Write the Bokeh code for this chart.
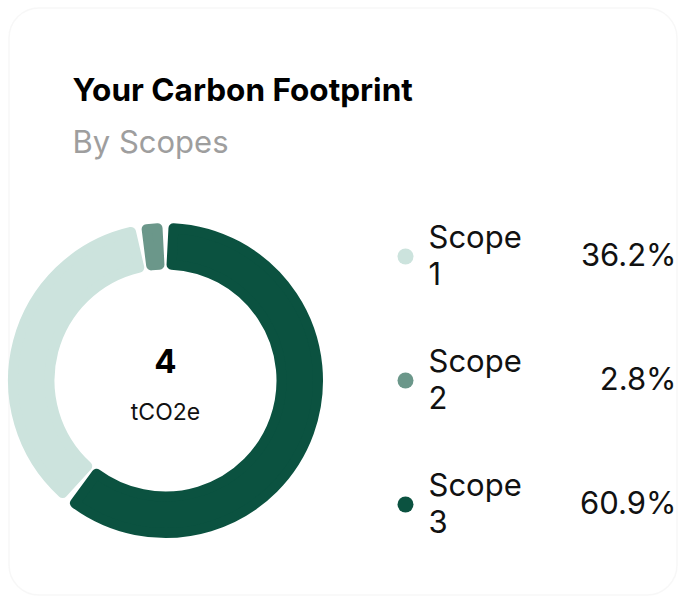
import numpy as np
from bokeh.plotting import figure
from bokeh.models import ColumnDataSource, BoxAnnotation, Range1d
from bokeh.core.properties import value
from bokeh.embed import file_html
from bokeh.resources import INLINE

# ---- data ----
categories = ["Scope 1", "Scope 2", "Scope 3"]
shares = [36.2, 2.8, 60.9]
colors = ["#cce3dd", "#6b978a", "#0b5240"]
clockwise_order = [2, 0, 1]  # from 12 o'clock: Scope 3, Scope 1, Scope 2
total_value = "4"
unit_label = "tCO2e"
title_text = "Your Carbon Footprint"
subtitle_text = "By Scopes"

FONT = "Inter"
W, H = 678, 596

p = figure(width=W, height=H, x_range=Range1d(0, W), y_range=Range1d(0, H),
           output_backend="svg", toolbar_location=None, min_border=0)
p.axis.visible = False
p.grid.visible = False
p.outline_line_color = None
p.background_fill_color = "white"
p.border_fill_color = "white"

# card
card = BoxAnnotation(left=8.5, right=676.5, bottom=1.5, top=588.5,
                     fill_alpha=0, line_color="#e4e4e4", line_width=1.5,
                     border_radius=30, level="underlay")
p.add_layout(card)

# donut
cx, cy = 165, 216
r_out, r_in = 157.5, 111.0
corner = 5.0
gap = 4.0
vals = np.array(shares)[clockwise_order]
frac = vals / vals.sum()
ends = np.cumsum(frac)
starts = ends - frac
r_mid = (r_out + r_in) / 2
d = (gap / 2 + corner) / r_mid
wsrc = ColumnDataSource(dict(
    start=np.pi / 2 - starts * 2 * np.pi - d,
    end=np.pi / 2 - ends * 2 * np.pi + d,
    color=[colors[i] for i in clockwise_order],
))
p.annular_wedge(x=cx, y=cy, inner_radius=r_in + corner, outer_radius=r_out - corner,
                start_angle="start", end_angle="end", direction="clock",
                fill_color="color", line_color="color", line_width=2 * corner,
                line_join="round", source=wsrc)

# center text
p.text(x=[cx], y=[cy + 20], text=[total_value], text_font=value(FONT),
       text_font_size="33px", text_font_style="bold", text_color="#000000",
       text_align="center", text_baseline="middle")
p.text(x=[cx], y=[cy - 31], text=[unit_label], text_font=value(FONT),
       text_font_size="23px", text_color="#111111",
       text_align="center", text_baseline="middle")

# title
p.text(x=[72], y=[507], text=[title_text], text_font=value(FONT),
       text_font_size="31.5px", text_font_style="bold", text_color="#000000",
       text_align="left", text_baseline="middle")
p.text(x=[72], y=[455], text=[subtitle_text], text_font=value(FONT),
       text_font_size="31px", text_color="#9e9e9e",
       text_align="left", text_baseline="middle")

# legend
row_gap = 124
rows_y = np.array([cy + (1 - i) * row_gap for i in range(len(categories))])
lsrc = ColumnDataSource(dict(
    y=rows_y,
    y_txt=rows_y + 2,
    y_top=rows_y + 20,
    y_bot=rows_y - 16.5,
    color=colors,
    word=[c.split(" ")[0] for c in categories],
    num=[c.split(" ")[1] for c in categories],
    pct=[f"{v:.1f}%" for v in shares],
))
p.scatter(x=405, y="y", size=16, marker="circle", fill_color="color",
          line_color=None, source=lsrc)
for col in ("word", "num"):
    p.text(x=428, y="y_top" if col == "word" else "y_bot", text=col,
           text_font=value(FONT), text_font_size="31px",
           text_color="#111111", text_align="left", text_baseline="middle",
           source=lsrc)
p.text(x=676, y="y_txt", text="pct", text_font=value(FONT), text_font_size="31px",
       text_color="#111111", text_align="right", text_baseline="middle",
       source=lsrc)

open("out.html", "w").write(file_html(p, INLINE))
